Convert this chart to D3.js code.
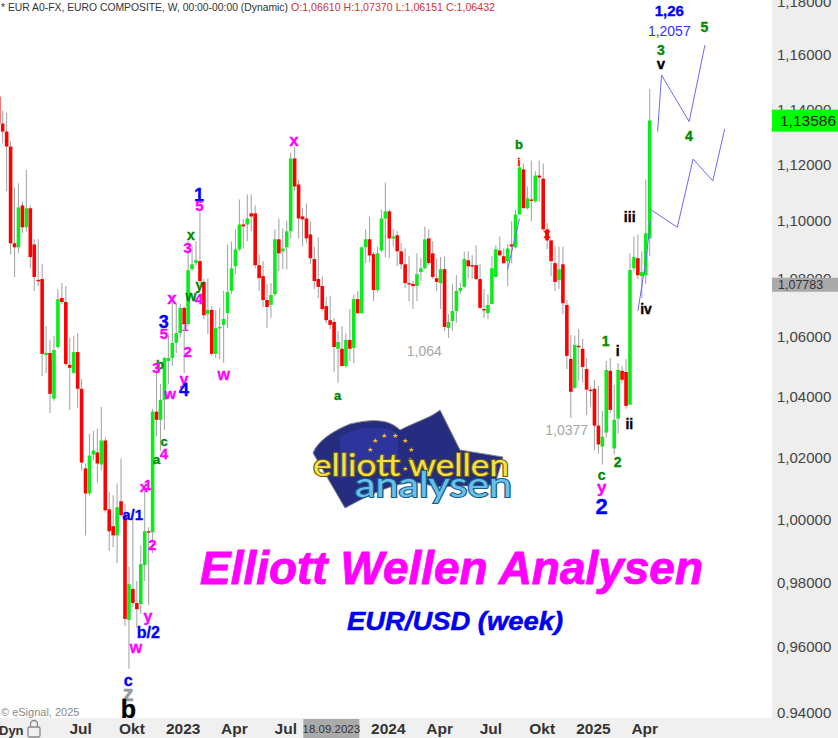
<!DOCTYPE html>
<html><head><meta charset="utf-8">
<script src="https://cdn.jsdelivr.net/npm/d3@7/dist/d3.min.js"></script>
<style>html,body{margin:0;padding:0;background:#fff;overflow:hidden}svg{display:block}text{font-family:"Liberation Sans",Arial,sans-serif}</style>
</head><body><svg id="c" width="838" height="738"></svg>
<script>
const opens=[1.1446,1.1348,1.1319,1.1265,1.0922,1.0908,1.1055,1.0978,1.1045,1.0918,1.0795,1.0798,1.0539,1.0546,1.0393,1.0566,1.0733,1.0719,1.0506,1.0479,1.0549,1.0426,1.0164,1.0083,1.0209,1.0216,1.0177,1.0255,1.0032,0.9978,0.9949,1.0058,1.0010,0.9684,0.9780,0.9736,0.9733,0.9855,0.9962,0.9959,1.0350,1.0323,1.0389,1.0519,1.0529,1.0580,1.0613,1.0699,1.0644,1.0832,1.0853,1.0860,1.0788,1.0678,1.0692,1.0543,1.0630,1.0641,1.0681,1.0757,1.0842,1.0901,1.0988,1.0988,1.1027,1.1027,1.0846,1.0808,1.0726,1.0709,1.0746,1.0936,1.0894,1.0908,1.0964,1.1222,1.1129,1.1016,1.1009,1.0953,1.0867,1.0798,1.0774,1.0705,1.0657,1.0651,1.0560,1.0560,1.0502,1.0590,1.0563,1.0729,1.0681,1.0908,1.0936,1.0884,1.0760,1.0897,1.1009,1.1034,1.0939,1.0950,1.0894,1.0849,1.0784,1.0781,1.0774,1.0822,1.0835,1.0939,1.0887,1.0801,1.0784,1.0832,1.0630,1.0654,1.0688,1.0757,1.0771,1.0863,1.0846,1.0846,1.0798,1.0695,1.0681,1.0712,1.0805,1.0897,1.0877,1.0860,1.0918,1.0908,1.1023,1.1183,1.1045,1.1076,1.1069,1.1161,1.1150,1.0971,1.0932,1.0853,1.0795,1.0849,1.0709,1.0526,1.0429,1.0570,1.0560,1.0492,1.0423,1.0426,1.0304,1.0235,1.0281,1.0486,1.0229,1.0327,1.0486,1.0482,1.0373,1.0835,1.0870,1.0808,1.0811,1.0939];
const highs=[1.1446,1.1395,1.1387,1.1283,1.1119,1.1133,1.1069,1.1183,1.1055,1.0936,1.0936,1.0849,1.0637,1.0590,1.0604,1.0764,1.0784,1.0774,1.0597,1.0604,1.0613,1.0459,1.0180,1.0277,1.0287,1.0294,1.0366,1.0265,1.0087,1.0077,1.0115,1.0196,1.0048,0.9851,0.9997,0.9805,0.9917,1.0093,0.9975,1.0360,1.0502,1.0442,1.0533,1.0610,1.0722,1.0712,1.0712,1.0705,1.0929,1.0911,1.0929,1.1034,1.0798,1.0801,1.0705,1.0692,1.0699,1.0757,1.0918,1.0929,1.0971,1.1076,1.1006,1.1094,1.1094,1.1055,1.0884,1.0860,1.0781,1.0784,1.0971,1.1009,1.0974,1.1002,1.1243,1.1265,1.1147,1.1045,1.1062,1.0999,1.0911,1.0943,1.0808,1.0736,1.0740,1.0664,1.0620,1.0637,1.0613,1.0695,1.0746,1.0757,1.0911,1.0971,1.1016,1.0891,1.0911,1.1041,1.1136,1.1041,1.0971,1.0964,1.0922,1.0904,1.0877,1.0791,1.0887,1.0870,1.0981,1.0971,1.0929,1.0870,1.0874,1.0877,1.0678,1.0781,1.0811,1.0784,1.0894,1.0894,1.0880,1.0915,1.0849,1.0764,1.0746,1.0877,1.0915,1.0946,1.0904,1.0918,1.0999,1.1041,1.1211,1.1204,1.1122,1.1215,1.1176,1.1215,1.1204,1.0992,1.0936,1.0911,1.0911,1.0911,1.0726,1.0607,1.0604,1.0627,1.0594,1.0529,1.0436,1.0456,1.0436,1.0353,1.0519,1.0529,1.0439,1.0512,1.0502,1.0526,1.0887,1.0946,1.0953,1.0894,1.1147,1.1475];
const lows=[1.1337,1.1276,1.1105,1.0884,1.0805,1.0887,1.0957,1.0964,1.0835,1.0757,1.0774,1.0469,1.0479,1.0346,1.0386,1.0560,1.0712,1.0502,1.0356,1.0476,1.0363,1.0157,0.9949,1.0077,1.0190,1.0118,1.0157,1.0022,0.9899,0.9911,0.9861,1.0010,0.9665,0.9534,0.9723,0.9659,0.9702,0.9805,0.9730,0.9892,1.0268,1.0222,1.0290,1.0442,1.0502,1.0546,1.0597,1.0479,1.0637,1.0825,1.0846,1.0784,1.0661,1.0610,1.0536,1.0529,1.0526,1.0512,1.0630,1.0746,1.0815,1.0894,1.0904,1.0929,1.0964,1.0835,1.0757,1.0702,1.0630,1.0664,1.0740,1.0825,1.0832,1.0832,1.0939,1.1105,1.0939,1.0911,1.0922,1.0849,1.0764,1.0733,1.0688,1.0647,1.0627,1.0482,1.0446,1.0502,1.0496,1.0519,1.0512,1.0678,1.0678,1.0853,1.0856,1.0722,1.0753,1.0891,1.0874,1.0870,1.0911,1.0842,1.0832,1.0767,1.0722,1.0695,1.0722,1.0791,1.0832,1.0846,1.0798,1.0757,1.0695,1.0620,1.0597,1.0620,1.0647,1.0746,1.0767,1.0801,1.0798,1.0795,1.0695,1.0664,1.0661,1.0712,1.0805,1.0877,1.0849,1.0774,1.0853,1.0904,1.1023,1.1045,1.1041,1.0999,1.1065,1.1069,1.0964,1.0901,1.0808,1.0757,1.0764,1.0678,1.0492,1.0330,1.0426,1.0453,1.0446,1.0340,1.0366,1.0222,1.0212,1.0177,1.0265,1.0346,1.0209,1.0277,1.0446,1.0360,1.0373,1.0825,1.0798,1.0733,1.0781,1.0877];
const closes=[1.1348,1.1319,1.1265,1.0922,1.0908,1.1048,1.0978,1.1045,1.0874,1.0805,1.0791,1.0543,1.0546,1.0409,1.0556,1.0729,1.0719,1.0509,1.0496,1.0549,1.0426,1.0183,1.0083,1.0206,1.0222,1.0180,1.0255,1.0029,0.9962,0.9949,1.0039,1.0013,0.9687,0.9795,0.9736,0.9717,0.9858,0.9962,0.9959,1.0350,1.0323,1.0389,1.0529,1.0529,1.0580,1.0613,1.0699,1.0644,1.0829,1.0849,1.0863,1.0791,1.0674,1.0692,1.0543,1.0630,1.0634,1.0661,1.0753,1.0835,1.0901,1.0988,1.0981,1.1009,1.1016,1.0846,1.0801,1.0726,1.0702,1.0743,1.0936,1.0887,1.0904,1.0964,1.1222,1.1122,1.1009,1.1006,1.0939,1.0870,1.0791,1.0771,1.0695,1.0657,1.0641,1.0566,1.0583,1.0502,1.0590,1.0560,1.0729,1.0681,1.0908,1.0936,1.0880,1.0760,1.0887,1.1009,1.1034,1.0939,1.0946,1.0894,1.0849,1.0784,1.0781,1.0774,1.0815,1.0835,1.0936,1.0853,1.0805,1.0788,1.0832,1.0634,1.0651,1.0688,1.0757,1.0767,1.0867,1.0842,1.0842,1.0798,1.0699,1.0692,1.0709,1.0835,1.0901,1.0880,1.0853,1.0904,1.0911,1.1023,1.1190,1.1045,1.1080,1.1073,1.1161,1.1154,1.0971,1.0932,1.0860,1.0788,1.0832,1.0715,1.0536,1.0416,1.0573,1.0566,1.0499,1.0423,1.0419,1.0304,1.0242,1.0268,1.0489,1.0356,1.0323,1.0489,1.0456,1.0369,1.0829,1.0874,1.0811,1.0822,1.0957,1.1359];

const priceTicks=[1.18,1.16,1.14,1.12,1.10,1.08,1.06,1.04,1.02,1.00,0.98,0.96,0.94];
const timeTickIndex=[21,34,47,60,73,99,112,125,138,151,164];
const timeTickLabels=["Jul","Okt","2023","Apr","Jul","2024","Apr","Jul","Okt","2025","Apr"];
const cursorIndex=84.3, cursorLabel="18.09.2023";
const lastPrice=1.13586, markerPrice=1.07783;

// projected wave paths: bar index and price
const projAIndex=[167,168,175,179], projAPrice=[1.1319,1.1525,1.1355,1.1636];
const projBIndex=[165.3,172,176,181,184], projBPrice=[1.1040,1.0978,1.1220,1.1142,1.1328];
const projCIndex=[162,164,165.2], projCPrice=[1.0688,1.0860,1.0999];
const projDIndex=[129,132], projDPrice=[1.0832,1.1009];

// wave labels
const M="#ff00ff",B="#0000ff",G="#008a00",K="#000",Y="#999",R="#ff0000";
const underNotes=[["1",185,326,M,13]];
const notes=[
["1",199,195,B,18],["5",199.5,205.5,M,15],["x",191,235,G,14],["3",187.7,248,M,15],
["x",172,298.5,M,17],["y",199.3,285,G,14],["w",191,296.5,G,14],["4",199,299,M,15],
["3",163.7,322,B,18],["5",164,334,M,15],["2",187.7,352,M,15],["b",160,364,G,13],
["3",156.3,368,M,15],["y",184,379,M,16],["4",184,390,B,18],["w",223.7,374.5,M,16],
["w",170,394,M,15],["c",164,441,G,13],["4",164,454,M,15],
["a",156.7,459,G,13],["1",148,485,M,14],["x",144,487,M,15],["a/1",132.7,514.5,B,15],
["2",152.3,545,M,15],["y",148,616,M,16],["b/2",148.3,632,B,16],["w",136,647,M,16],
["c",128.3,680,B,16],["z",128.3,693,Y,22],["b",128.3,709,K,25],
["x",294,140.5,M,17],["a",337.7,395.5,G,13],["b",519,144.5,G,13],
["i",519,162,R,10],["x",547,234,R,12],
["1,26",669.3,11,B,15],["5",704.3,27.3,G,14],["3",661,50.5,G,14],["v",661,63.3,K,15],
["4",689,136.5,G,14],["iii",629.7,217.3,K,14],["iv",646,309.3,K,14],["1",605.7,341.5,G,14],
["i",617.7,351.3,K,14],["ii",629.3,424,K,14],["2",617.7,462,G,14],["c",601.7,475.5,G,14],
["y",601.7,487,M,17],["2",601.7,506,B,22]
];
const plainNotes=[["1,064",424.3,351,"#a6a6a6"],["1,0377",566.7,430.3,"#a6a6a6"],["1,2057",669.3,30.7,"#3333ff"]];
const logoStars=[[225,122],[252,106],[285,106],[315,122],[332,149],[330,180],[314,206],[210,149]];

const W=838,H=738;
const svg=d3.select("#c");
const x=d3.scaleLinear().domain([0,165]).range([-1.25,649.7]);
const y=d3.scaleLog().domain([0.94,1.18]).range([713,1.3]);

svg.append("g").selectAll("text").data(underNotes).join("text")
 .attr("x",d=>d[1]).attr("y",d=>d[2]).attr("dy",".35em").attr("text-anchor","middle")
 .attr("font-weight","bold").attr("font-size",d=>d[4]).attr("fill",d=>d[3]).text(d=>d[0]);

const bars=opens.map((o,i)=>({i,o,h:highs[i],l:lows[i],c:closes[i]}));
const gc=svg.append("g");
gc.selectAll("line").data(bars).join("line")
 .attr("x1",d=>x(d.i)).attr("x2",d=>x(d.i)).attr("y1",d=>y(d.h)).attr("y2",d=>y(d.l))
 .attr("stroke","#a8a8a8").attr("stroke-width",1.1);
gc.selectAll("rect").data(bars).join("rect")
 .attr("x",d=>x(d.i)-1.8).attr("width",3.6)
 .attr("y",d=>y(Math.max(d.o,d.c)))
 .attr("height",d=>Math.max(1.4,Math.abs(y(d.o)-y(d.c))))
 .attr("fill",d=>d.c>=d.o?"#0cec1c":"#ff0000");

const line=d3.line().x(d=>x(d[0])).y(d=>y(d[1]));
[[projAIndex,projAPrice],[projBIndex,projBPrice],[projCIndex,projCPrice],[projDIndex,projDPrice]].forEach(([a,b])=>{
 svg.append("path").attr("d",line(d3.zip(a,b))).attr("fill","none").attr("stroke","#6a6af5").attr("stroke-width",1);
});

// logo
const logo=svg.append("g");
logo.append("path").attr("d","M313,453 C318,440 335,430 350,424 C375,418 390,420 400,430 C420,420 430,418 440,410 L460,450 L503,457 L495,485 L435,487 C415,480 400,478 345,508 Z")
 .attr("fill","#262c80").attr("stroke","#888").attr("stroke-width",1);
logo.append("path").attr("d","M340,437 C360,425 385,425 398,434 L398,470 C380,465 360,470 340,480 Z").attr("fill","#3138a8").attr("opacity",.7);
logo.selectAll("text.star").data(logoStars).join("text").attr("class","star")
 .attr("x",d=>300+d[0]/3).attr("y",d=>400+d[1]/3).attr("dy",".35em").attr("text-anchor","middle")
 .attr("font-size",7).attr("fill","#f4c020").text("★");
logo.append("text").text("elliott wellen").attr("x",313).attr("y",476).attr("textLength",196).attr("lengthAdjust","spacingAndGlyphs")
 .attr("font-size",31).attr("fill","#f5e04a").attr("stroke","#6b5f10").attr("stroke-width",2.2).attr("paint-order","stroke")
 .style("font-family","Lato,sans-serif");
logo.append("text").text("analysen").attr("x",355).attr("y",497).attr("textLength",157).attr("lengthAdjust","spacingAndGlyphs")
 .attr("font-size",34).attr("fill","#6cc0e8").attr("stroke","#14608c").attr("stroke-width",2.2).attr("paint-order","stroke")
 .style("font-family","Lato,sans-serif");

// annotations
svg.append("g").selectAll("text").data(notes).join("text")
 .attr("x",d=>d[1]).attr("y",d=>d[2]).attr("dy",".35em").attr("text-anchor","middle")
 .attr("font-weight","bold").attr("font-size",d=>d[4]).attr("fill",d=>d[3]).attr("stroke",d=>d[3]).attr("stroke-width",.35).text(d=>d[0]);
svg.append("g").selectAll("text").data(plainNotes).join("text")
 .attr("x",d=>d[1]).attr("y",d=>d[2]).attr("dy",".35em").attr("text-anchor","middle")
 .attr("font-size",14).attr("fill",d=>d[3]).text(d=>d[0]);

svg.append("text").text("Elliott Wellen Analysen").attr("x",200).attr("y",584)
 .attr("textLength",503).attr("lengthAdjust","spacingAndGlyphs")
 .attr("font-size",46).attr("font-weight","bold").attr("font-style","italic").attr("fill","#ff00ff").attr("stroke","#ff00ff").attr("stroke-width",.9);
svg.append("text").text("EUR/USD (week)").attr("x",347).attr("y",630)
 .attr("textLength",216).attr("lengthAdjust","spacingAndGlyphs")
 .attr("font-size",25).attr("font-weight","bold").attr("font-style","italic").attr("fill","#0000ee").attr("stroke","#0000ee").attr("stroke-width",.5);

// header
svg.append("text").attr("x",1).attr("y",11).attr("font-size",11).attr("fill","#333")
 .attr("textLength",287).attr("lengthAdjust","spacingAndGlyphs").text("* EUR A0-FX, EURO COMPOSITE, W, 00:00-00:00 (Dynamic)");
svg.append("text").attr("x",291).attr("y",11).attr("font-size",11).attr("fill","#d83030")
 .attr("textLength",204).attr("lengthAdjust","spacingAndGlyphs").text("O:1,06610 H:1,07370 L:1,06151 C:1,06432");

// right price panel
svg.append("rect").attr("x",772).attr("y",0).attr("width",66).attr("height",H).attr("fill","#eeeeee");
const fmtP=d=>d3.format(".5f")(d).replace(".",",");
const axR=svg.append("g").attr("transform","translate(772,0)")
 .call(d3.axisRight(y).tickValues(priceTicks).tickSize(0).tickPadding(5).tickFormat(fmtP));
axR.select(".domain").remove();
axR.selectAll("text").attr("font-size",15).attr("fill","#444").style("font-family",'"Liberation Sans",Arial,sans-serif');

svg.append("rect").attr("x",772).attr("y",y(markerPrice)-7).attr("width",66).attr("height",14).attr("fill","#aaaaaa");
svg.append("text").attr("x",778).attr("y",y(markerPrice)).attr("dy",".35em").attr("font-size",12.5).attr("fill","#333").text(fmtP(markerPrice));
svg.append("rect").attr("x",772).attr("y",y(lastPrice)-11).attr("width",66).attr("height",22).attr("fill","#00ff00");
svg.append("text").attr("x",780).attr("y",y(lastPrice)).attr("dy",".35em").attr("font-size",15.5).attr("fill","#222").text(fmtP(lastPrice));

// bottom bar
svg.append("rect").attr("x",0).attr("y",718).attr("width",W).attr("height",20).attr("fill","#f0f0f0");
const axB=svg.append("g").attr("transform","translate(-1.5,718)")
 .call(d3.axisBottom(x).tickValues(timeTickIndex).tickSize(0).tickPadding(5).tickFormat((d,i)=>timeTickLabels[i]));
axB.select(".domain").remove();
axB.selectAll("text").attr("font-size",15.5).attr("font-weight","bold").attr("fill","#333").style("font-family",'"Liberation Sans",Arial,sans-serif');
svg.append("rect").attr("x",x(cursorIndex)-28).attr("y",719).attr("width",56).attr("height",19).attr("fill","#aaaaaa");
svg.append("text").attr("x",x(cursorIndex)).attr("y",733).attr("text-anchor","middle").attr("font-size",11.5).attr("fill","#333").text(cursorLabel);
svg.append("text").attr("x",-1).attr("y",735).attr("font-size",13).attr("font-weight","bold").attr("fill","#333").text("Dyn");
const lock=svg.append("g").attr("fill","none").attr("stroke","#888").attr("stroke-width",1.3);
lock.append("rect").attr("x",28).attr("y",727).attr("width",12).attr("height",10).attr("rx",1.5);
lock.append("path").attr("d","M30.5,727 V724 a3.5,3.5 0 0 1 7,0 V727");
svg.append("text").attr("x",1).attr("y",716).attr("font-size",11).attr("fill","#8a8a8a").text("© eSignal, 2025");
</script></body></html>
